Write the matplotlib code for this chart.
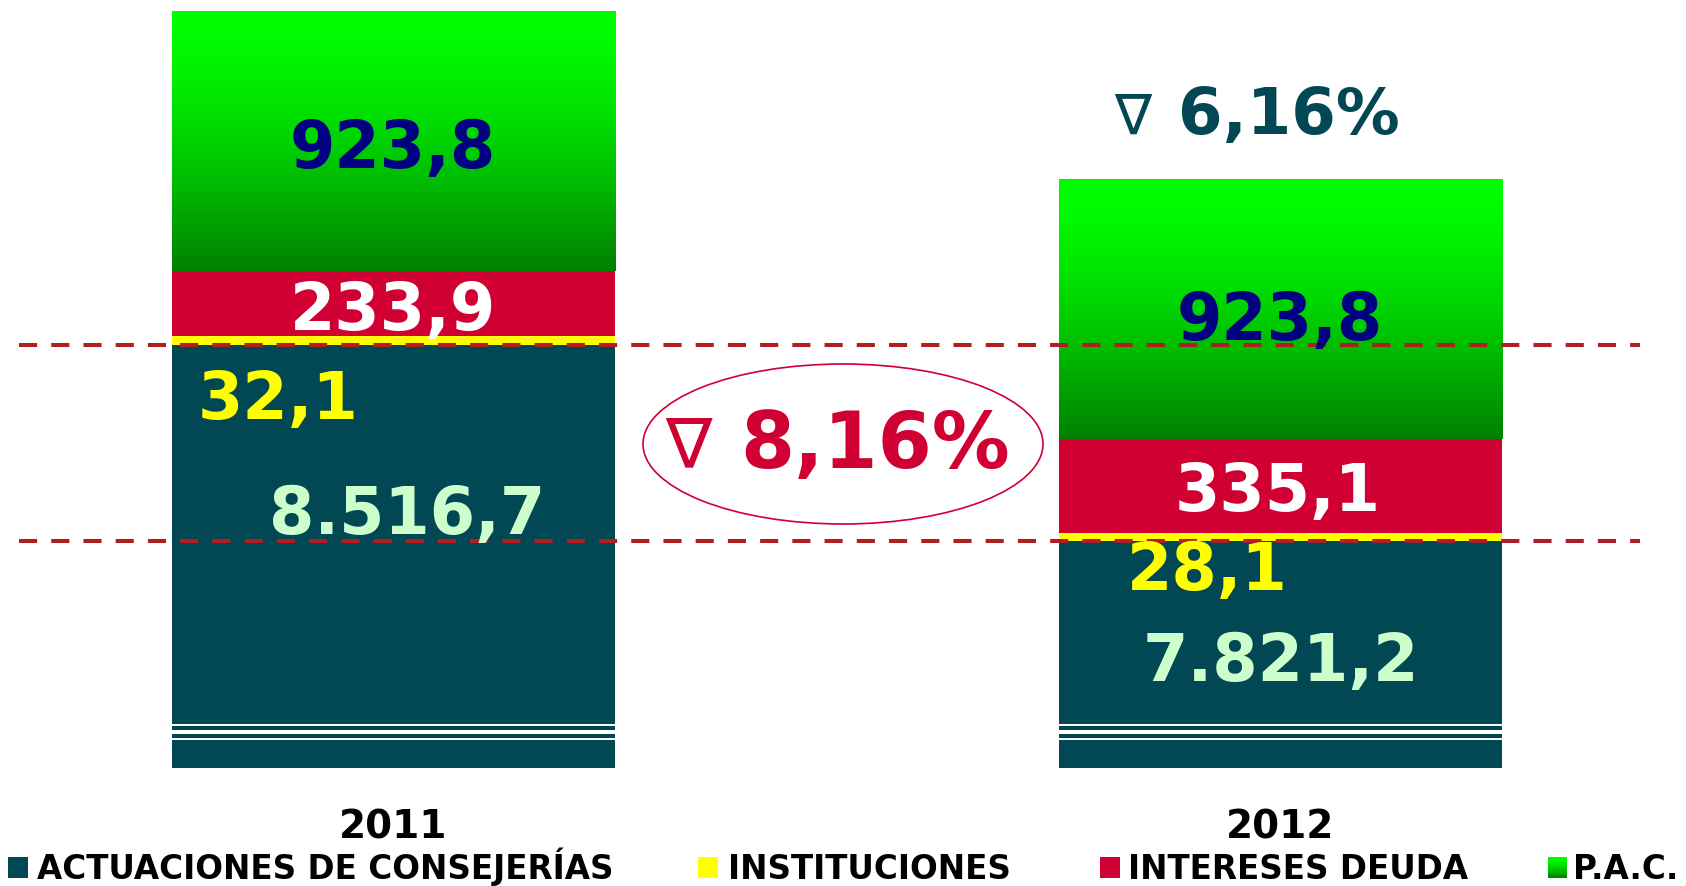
import numpy as np
import matplotlib
matplotlib.use("Agg")
import matplotlib.pyplot as plt
from matplotlib.patches import Ellipse, Rectangle

# ---------------- data ----------------
years = ["2011", "2012"]
series = ["ACTUACIONES DE CONSEJERÍAS", "INSTITUCIONES", "INTERESES DEUDA", "P.A.C."]
actuaciones = [8516.7, 7821.2]
instituciones = [32.1, 28.1]
intereses = [233.9, 335.1]
pac = [923.8, 923.8]
pct_total = 6.16
pct_actuaciones = 8.16

# ---------------- style ----------------
TEAL = "#024854"
YELLOW = "#FFFF00"
RED = "#D00033"
NAVY = "#000080"
MINT = "#CCFFCC"
DASH = "#B01E23"
FONT = "DejaVu Sans"

W, H, DPI = 1686, 887, 100
fig = plt.figure(figsize=(W / DPI, H / DPI), dpi=DPI)
ax_bottom_px = 769
ax = fig.add_axes([0, (H - ax_bottom_px) / H, 1, ax_bottom_px / H])

# value scale (px per unit) and limits chosen so the broken axis shows the top part
scale = 0.281
yhi = 9706.5 + 12 / scale
ylo = yhi - ax_bottom_px / scale
x0_px, dx_px = 393.5, 887.0
xlim = (-x0_px / dx_px, (W - x0_px) / dx_px)


def py2v(py):
    return yhi - py / scale


def px2x(px):
    return (px - x0_px) / dx_px


def fmt_es(v):
    s = f"{v:,.1f}"
    return s.replace(",", "#").replace(".", ",").replace("#", ".")


x = np.arange(len(years))
bw = 0.5
b1 = np.array(actuaciones)
b2 = b1 + np.array(instituciones)
b3 = b2 + np.array(intereses)

ax.bar(x, actuaciones, width=bw, color=TEAL, zorder=2)
ax.bar(x, instituciones, bottom=b1, width=bw, color=YELLOW, zorder=2)
ax.bar(x, intereses, bottom=b2, width=bw, color=RED, zorder=2)
pac_bars = ax.bar(x, pac, bottom=b3, width=bw, color="#00C000", zorder=2)

# gradient for P.A.C.
t = np.linspace(0, 1, 256)
g = 1.0 - 0.5 * t ** 1.5
grad_img = np.zeros((256, 1, 3))
grad_img[:, 0, 1] = g  # top row bright green
for i, rect in enumerate(pac_bars):
    im = ax.imshow(grad_img, aspect="auto", interpolation="bicubic",
                   extent=(x[i] - bw / 2, x[i] + bw / 2, b3[i], b3[i] + pac[i]),
                   zorder=2.5, origin="upper")
    im.set_clip_path(rect)

# axis break stripes
for (top_px, bot_px) in [(725.0, 727.3), (730.7, 735.3), (739.0, 740.8)]:
    ax.axhspan(py2v(bot_px), py2v(top_px), color="white", zorder=3, lw=0)

# dashed reference lines at the ACTUACIONES levels
for v in actuaciones:
    ax.plot([px2x(19), px2x(1640)], [v, v], color=DASH, lw=2.9,
            dashes=(4.5, 3.5), zorder=4, solid_capstyle="butt")

ax.set_xlim(*xlim)
ax.set_ylim(ylo, yhi)
for s in ax.spines.values():
    s.set_visible(False)
ax.set_yticks([])
ax.set_xticks(x)
ax.set_xticklabels(years, fontsize=28, fontweight="bold", family=FONT, color="black")
ax.tick_params(axis="x", length=0, pad=28.5)
ax.set_facecolor("white")


def label(text, cx_px, cy_px, fs, color, ha="center", weight="bold"):
    dh = 0.729 * fs * DPI / 72.0
    ax.text(px2x(cx_px), py2v(cy_px + dh / 2), text, fontsize=fs, fontweight=weight,
            family=FONT, color=color, ha=ha, va="baseline", zorder=6)


fs = 47
# 2011
label(fmt_es(pac[0]), 393, 144, fs, NAVY)
label(fmt_es(intereses[0]), 393, 306, fs, "white")
label(fmt_es(instituciones[0]), 198, 395, fs, YELLOW, ha="left")
label(fmt_es(actuaciones[0]), 407, 510, fs, MINT)
# 2012
label(fmt_es(pac[1]), 1280, 316, fs, NAVY)
label(fmt_es(intereses[1]), 1278, 487, fs, "white")
label(fmt_es(instituciones[1]), 1207, 566, fs, YELLOW)
label(fmt_es(actuaciones[1]), 1281, 657, fs, MINT)

# percentage annotations (outline nabla + bold number)
pct = lambda p: f"{p:.2f}".replace(".", ",") + "%"
label("\u2207", 1133, 113, 40, TEAL, weight="normal")
label(pct(pct_total), 1178, 110.5, 46, TEAL, ha="left")
label("\u2207", 688, 442, 50, RED, weight="normal")
label(pct(pct_actuaciones), 740, 440, 56, RED, ha="left")
ax.add_patch(Ellipse((px2x(843), py2v(445)), 400 / dx_px, 160 / scale,
                     facecolor="none", edgecolor=RED, lw=1.2, zorder=5))

# ---------------- legend (manual) ----------------
leg_items = [
    (series[0], TEAL, 8, 37),
    (series[1], YELLOW, 698, 728),
    (series[2], RED, 1100, 1128),
    (series[3], "grad", 1548, 1573),
]
sq_top, sq_bot = 858, 879
for name, col, sqx, tx in leg_items:
    if col == "grad":
        lax = fig.add_axes([sqx / W, (H - sq_bot) / H, 19 / W, (sq_bot - sq_top) / H])
        lax.imshow(grad_img, aspect="auto", interpolation="bicubic")
        lax.axis("off")
    else:
        fig.patches.append(Rectangle((sqx / W, (H - sq_bot) / H), 20 / W,
                                     (sq_bot - sq_top) / H, transform=fig.transFigure,
                                     facecolor=col, edgecolor="none"))
    fig.text(tx / W, (H - 879) / H, name, fontsize=23.5, fontweight="bold",
             family=FONT, color="black", ha="left", va="baseline")

fig.savefig("out.png", dpi=DPI, facecolor="white")
